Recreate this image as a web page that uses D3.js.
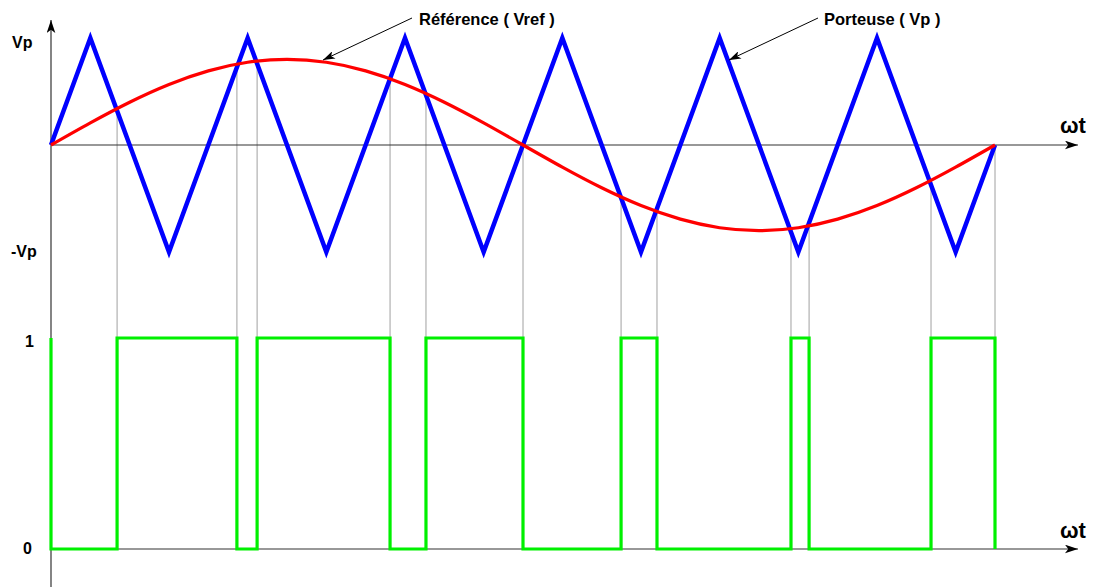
<!DOCTYPE html>
<html><head><meta charset="utf-8">
<script src="https://cdn.jsdelivr.net/npm/d3@7"></script>
<style>
html,body{margin:0;padding:0;background:#fff;}
svg{display:block;font-family:"Liberation Sans",Arial,sans-serif;font-weight:bold;}
</style></head>
<body><svg id="c" width="1094" height="587"></svg>
<script>
// ---- data (ωt in degrees, amplitudes in units of Vp) ----
const refAngles = [0,15,30,45,60,75,90,105,120,135,150,165,180,195,210,225,240,255,270,285,300,315,330,345,360];
const refValues = [0,0.207,0.40,0.566,0.693,0.773,0.80,0.773,0.693,0.566,0.40,0.207,0,-0.207,-0.40,-0.566,-0.693,-0.773,-0.80,-0.773,-0.693,-0.566,-0.40,-0.207,0];
const carrierAngles = [0,15,45,75,105,135,165,195,225,255,285,315,345,360];
const carrierValues = [0,1,-1,1,-1,1,-1,1,-1,1,-1,1,-1,0];
const switchAngles = [0,25.2,70.9,78.6,129.3,143.0,180.0,217.4,231.1,282.2,289.1,335.6,360];
const switchLevels = [0,1,0,1,0,1,0,1,0,1,0,1,0];   // level after each switch
const topTickValues = [1,-1];
const topTickLabels = ["Vp","-Vp"];
const botTickValues = [1,0];
const botTickLabels = ["1","0"];
const annotations = ["Référence ( Vref )","Porteuse ( Vp )"];
const axisLabel = "ωt";

const svg = d3.select("#c");
const x = d3.scaleLinear().domain([0,360]).range([51,995]);
const yT = d3.scaleLinear().domain([-1,1]).range([252,38]);
const yB = d3.scaleLinear().domain([0,1]).range([549,338]);
const carrierAt = d3.scaleLinear().domain(carrierAngles).range(carrierValues);

const defs = svg.append("defs");
defs.append("marker").attr("id","ah").attr("viewBox","0 0 12 8").attr("refX",12).attr("refY",4)
  .attr("markerWidth",12).attr("markerHeight",8).attr("markerUnits","userSpaceOnUse").attr("orient","auto")
  .append("path").attr("d","M0,0 L12,4 L0,8 L3,4 Z").attr("fill","#000");
defs.append("marker").attr("id","ah2").attr("viewBox","0 0 12 8").attr("refX",12).attr("refY",4)
  .attr("markerWidth",13).attr("markerHeight",9).attr("markerUnits","userSpaceOnUse").attr("orient","auto")
  .append("path").attr("d","M0,0 L12,4 L0,8 L3,4 Z").attr("fill","#000");

// grey guide lines from crossings down to level 1
const guides = switchAngles.filter(a => a > 0);
svg.append("g").selectAll("line").data(guides).join("line")
  .attr("x1",d=>x(d)).attr("x2",d=>x(d))
  .attr("y1",d=>yT(carrierAt(d))).attr("y2",yB(1))
  .attr("stroke","#a0a0a0").attr("stroke-width",1);

// axes
svg.append("line").attr("x1",x(0)).attr("x2",1078).attr("y1",yT(0)).attr("y2",yT(0))
  .attr("stroke","#333").attr("stroke-width",1.2).attr("marker-end","url(#ah2)");
svg.append("line").attr("x1",x(0)).attr("x2",1078).attr("y1",yB(0)).attr("y2",yB(0))
  .attr("stroke","#333").attr("stroke-width",1.2).attr("marker-end","url(#ah2)");
svg.append("line").attr("x1",x(0)).attr("x2",x(0)).attr("y1",587).attr("y2",20)
  .attr("stroke","#333").attr("stroke-width",1.2).attr("marker-end","url(#ah2)");

// carrier
svg.append("path").datum(carrierAngles.map((a,i)=>[a,carrierValues[i]]))
  .attr("d",d3.line().x(d=>x(d[0])).y(d=>yT(d[1])))
  .attr("fill","none").attr("stroke","#0000ff").attr("stroke-width",4.5).attr("stroke-linejoin","miter");

// reference
svg.append("path").datum(refAngles.map((a,i)=>[a,refValues[i]]))
  .attr("d",d3.line().x(d=>x(d[0])).y(d=>yT(d[1])).curve(d3.curveNatural))
  .attr("fill","none").attr("stroke","#ff0000").attr("stroke-width",3.2);

// PWM
const pwm = [[0,1]];
switchAngles.forEach((a,i)=>{ const prev = pwm[pwm.length-1][1]; pwm.push([a,prev]); pwm.push([a,switchLevels[i]]); });
svg.append("path").datum(pwm)
  .attr("d",d3.line().x(d=>x(d[0])).y(d=>yB(d[1])))
  .attr("fill","none").attr("stroke","#00f000").attr("stroke-width",3.2);

// tick labels
const topDy = [10,5], botDy = [9,5], topX = [12,11], botX = [25,23];
topTickValues.forEach((v,i)=>svg.append("text").attr("x",topX[i]).attr("y",yT(v)+topDy[i])
  .attr("font-size",16).text(topTickLabels[i]));
botTickValues.forEach((v,i)=>svg.append("text").attr("x",botX[i]).attr("y",yB(v)+botDy[i])
  .attr("font-size",16).text(botTickLabels[i]));

// axis labels
svg.append("text").attr("x",1060).attr("y",133).attr("font-size",22).text(axisLabel);
svg.append("text").attr("x",1060).attr("y",538).attr("font-size",22).text(axisLabel);

// annotations
svg.append("text").attr("x",419).attr("y",25).attr("font-size",16.5).text(annotations[0]);
svg.append("line").attr("x1",412).attr("y1",18).attr("x2",323).attr("y2",60)
  .attr("stroke","#000").attr("stroke-width",1).attr("marker-end","url(#ah)");
svg.append("text").attr("x",824).attr("y",25).attr("font-size",16.5).text(annotations[1]);
svg.append("line").attr("x1",818).attr("y1",18).attr("x2",729).attr("y2",60)
  .attr("stroke","#000").attr("stroke-width",1).attr("marker-end","url(#ah)");
</script></body></html>
